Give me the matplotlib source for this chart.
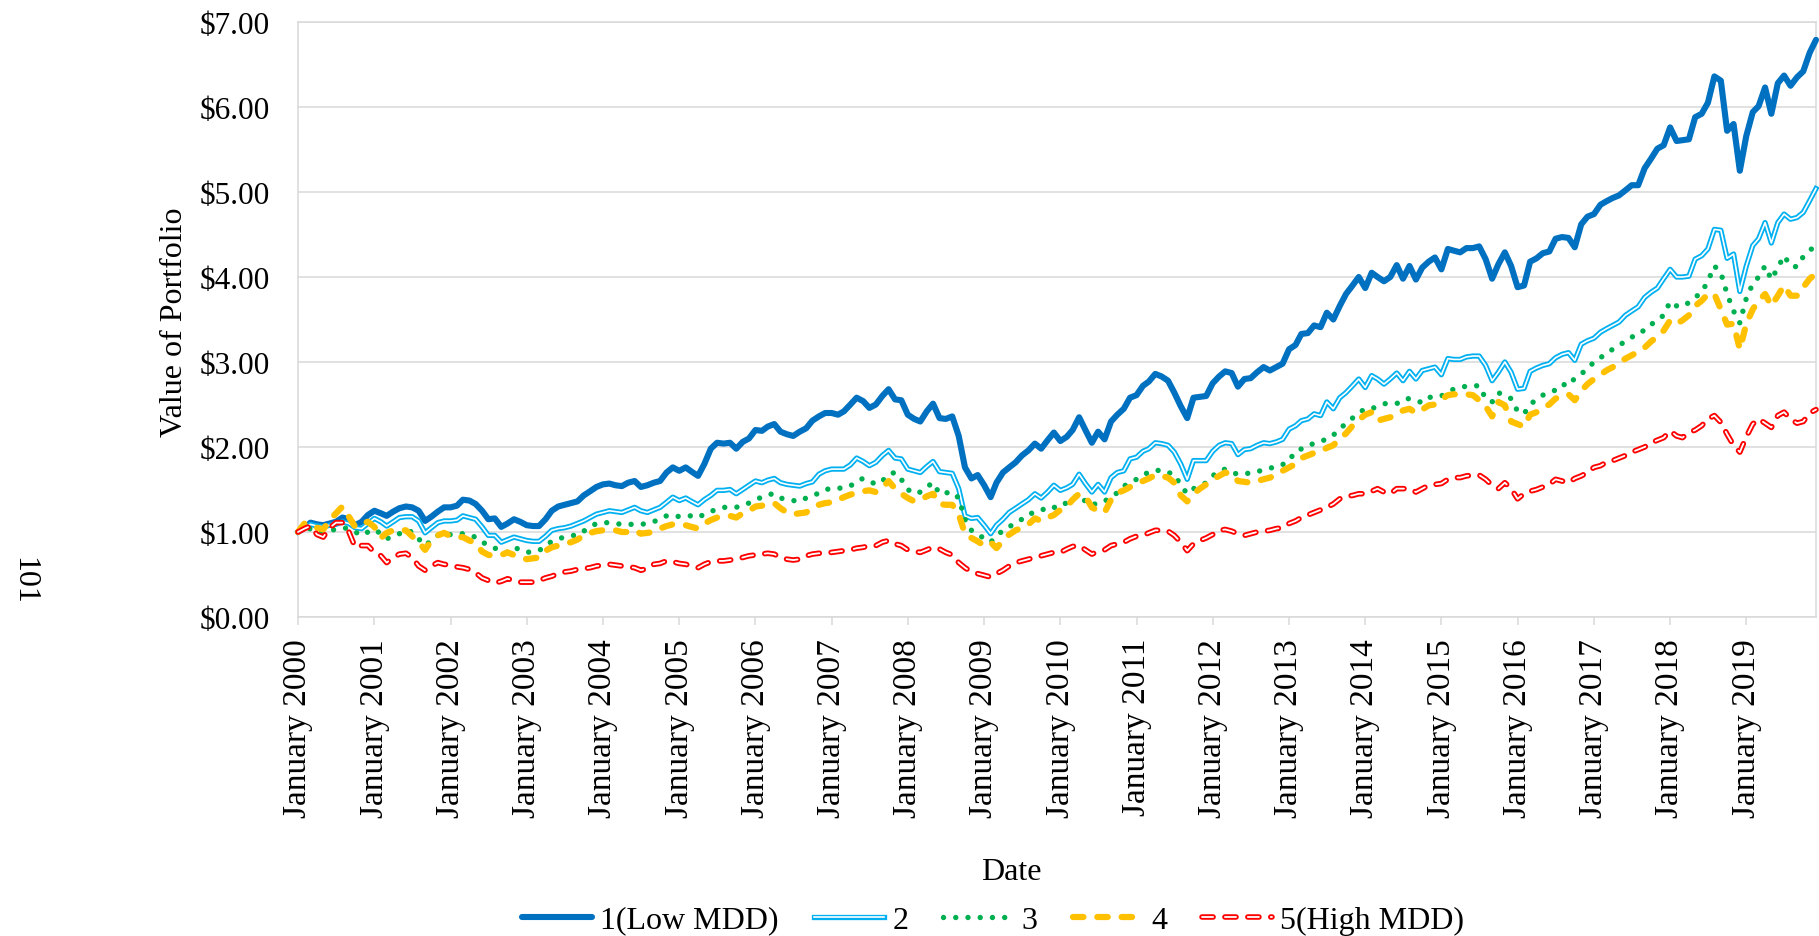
import matplotlib
matplotlib.use('Agg')
import matplotlib.pyplot as plt
from matplotlib.lines import Line2D
from matplotlib.ticker import MultipleLocator, FuncFormatter
import pandas as pd

# ---------------- data (monthly, Jan 2000 - Dec 2019) ----------------
start_month = '2000-01-01'
series_names = ['1(Low MDD)', '2', '3', '4', '5(High MDD)']

s1 = [1.00, 1.05, 1.11, 1.09, 1.08, 1.10, 1.12, 1.17, 1.15, 1.08, 1.12, 1.20,
      1.25, 1.22, 1.19, 1.24, 1.28, 1.30, 1.29, 1.25, 1.13, 1.18, 1.24, 1.29,
      1.29, 1.31, 1.38, 1.37, 1.33, 1.25, 1.15, 1.16, 1.06, 1.10, 1.15, 1.12,
      1.08, 1.07, 1.07, 1.15, 1.25, 1.30, 1.32, 1.34, 1.36, 1.43, 1.48, 1.53,
      1.56, 1.57, 1.55, 1.54, 1.58, 1.60, 1.53, 1.55, 1.58, 1.60, 1.70, 1.76,
      1.72, 1.76, 1.71, 1.66, 1.80, 1.98, 2.05, 2.04, 2.05, 1.98, 2.06, 2.10,
      2.20, 2.19, 2.24, 2.27, 2.18, 2.15, 2.13, 2.18, 2.22, 2.31, 2.36, 2.40,
      2.40, 2.38, 2.42, 2.50, 2.58, 2.54, 2.46, 2.50, 2.60, 2.68, 2.56, 2.55,
      2.38, 2.33, 2.30, 2.42, 2.51, 2.34, 2.33, 2.36, 2.13, 1.76, 1.63, 1.67,
      1.55, 1.41, 1.58, 1.70, 1.76, 1.82, 1.90, 1.96, 2.04, 1.98, 2.08, 2.17,
      2.07, 2.12, 2.20, 2.35, 2.20, 2.05, 2.18, 2.09, 2.30, 2.38, 2.45, 2.58,
      2.61, 2.72, 2.77, 2.86, 2.83, 2.78, 2.64, 2.48, 2.34, 2.58, 2.59, 2.60,
      2.75, 2.83, 2.89, 2.87, 2.71, 2.80, 2.81, 2.88, 2.94, 2.90, 2.94, 2.98,
      3.15, 3.20, 3.33, 3.34, 3.43, 3.41, 3.58, 3.50, 3.66, 3.80, 3.90, 4.00,
      3.87, 4.05, 4.00, 3.95, 4.00, 4.14, 3.98, 4.13, 3.97, 4.11, 4.18, 4.23,
      4.09, 4.33, 4.31, 4.29, 4.34, 4.34, 4.36, 4.21, 3.98, 4.15, 4.29, 4.13,
      3.88, 3.90, 4.18, 4.22, 4.28, 4.30, 4.45, 4.47, 4.46, 4.35, 4.62, 4.71,
      4.74, 4.85, 4.89, 4.93, 4.96, 5.02, 5.08, 5.08, 5.28, 5.39, 5.51, 5.55,
      5.76, 5.60, 5.61, 5.62, 5.88, 5.92, 6.05, 6.36, 6.31, 5.72, 5.80, 5.25,
      5.66, 5.94, 6.01, 6.23, 5.92, 6.28, 6.37, 6.25, 6.35, 6.42, 6.64, 6.79]

s2 = [1.00, 1.05, 1.09, 1.07, 1.06, 1.08, 1.09, 1.12, 1.10, 1.05, 1.04, 1.10,
      1.16, 1.12, 1.07, 1.12, 1.17, 1.18, 1.18, 1.13, 0.99, 1.05, 1.11, 1.13,
      1.13, 1.14, 1.19, 1.17, 1.15, 1.06, 0.96, 0.96, 0.88, 0.91, 0.94, 0.92,
      0.90, 0.89, 0.89, 0.95, 1.02, 1.04, 1.05, 1.07, 1.10, 1.13, 1.17, 1.21,
      1.23, 1.25, 1.24, 1.23, 1.26, 1.29, 1.25, 1.23, 1.26, 1.29, 1.35, 1.41,
      1.37, 1.40, 1.36, 1.32, 1.38, 1.43, 1.49, 1.49, 1.50, 1.45, 1.50, 1.55,
      1.60, 1.58, 1.61, 1.63, 1.58, 1.56, 1.55, 1.54, 1.57, 1.59, 1.68, 1.72,
      1.74, 1.74, 1.74, 1.79, 1.87, 1.83, 1.78, 1.82, 1.90, 1.96, 1.87, 1.86,
      1.74, 1.72, 1.70, 1.77, 1.83, 1.71, 1.70, 1.69, 1.51, 1.19, 1.16, 1.17,
      1.08, 0.98, 1.08, 1.15, 1.23, 1.28, 1.33, 1.38, 1.45, 1.40, 1.47, 1.55,
      1.49, 1.52, 1.56, 1.68, 1.57, 1.47, 1.56, 1.47, 1.64, 1.70, 1.72, 1.86,
      1.88, 1.95, 1.98, 2.05, 2.04, 2.02, 1.94, 1.80, 1.62, 1.84, 1.84, 1.84,
      1.95, 2.02, 2.05, 2.04, 1.91, 1.97, 1.98, 2.02, 2.05, 2.04, 2.06, 2.09,
      2.21, 2.25, 2.31, 2.33, 2.39, 2.37, 2.53, 2.45, 2.58, 2.64, 2.72, 2.80,
      2.70, 2.84, 2.80, 2.74, 2.80, 2.87, 2.78, 2.89, 2.80, 2.90, 2.92, 2.94,
      2.85, 3.04, 3.03, 3.03, 3.06, 3.07, 3.07, 2.96, 2.78, 2.88, 3.00, 2.88,
      2.68, 2.69, 2.89, 2.93, 2.96, 2.98, 3.05, 3.09, 3.11, 3.02, 3.21, 3.25,
      3.28, 3.35, 3.39, 3.43, 3.47, 3.55, 3.60, 3.65, 3.76, 3.82, 3.87, 3.98,
      4.09, 4.00, 4.00, 4.01, 4.21, 4.25, 4.33, 4.56, 4.55, 4.22, 4.27, 3.83,
      4.13, 4.37, 4.45, 4.64, 4.40, 4.64, 4.74, 4.68, 4.70, 4.76, 4.90, 5.04]

s3 = [1.00, 1.02, 1.04, 1.02, 1.00, 1.02, 1.03, 1.05, 1.04, 1.00, 0.96, 1.00,
      1.03, 0.98, 0.92, 0.95, 0.98, 1.02, 1.00, 0.92, 0.84, 0.90, 0.96, 0.96,
      0.97, 0.98, 0.98, 0.96, 0.94, 0.88, 0.85, 0.81, 0.78, 0.76, 0.82, 0.79,
      0.76, 0.77, 0.78, 0.84, 0.89, 0.92, 0.94, 0.96, 0.96, 1.01, 1.06, 1.10,
      1.11, 1.11, 1.10, 1.09, 1.09, 1.09, 1.09, 1.10, 1.12, 1.16, 1.19, 1.20,
      1.18, 1.19, 1.19, 1.17, 1.21, 1.24, 1.27, 1.29, 1.29, 1.29, 1.32, 1.34,
      1.38, 1.41, 1.44, 1.45, 1.40, 1.38, 1.37, 1.36, 1.40, 1.42, 1.46, 1.50,
      1.51, 1.51, 1.53, 1.54, 1.60, 1.63, 1.60, 1.56, 1.60, 1.68, 1.70, 1.62,
      1.50, 1.45, 1.47, 1.53, 1.58, 1.45, 1.46, 1.47, 1.40, 1.15, 1.02, 0.98,
      0.92, 0.88, 0.95, 1.02, 1.06, 1.11, 1.15, 1.21, 1.23, 1.25, 1.30, 1.29,
      1.29, 1.35, 1.40, 1.44, 1.36, 1.31, 1.35, 1.36, 1.42, 1.46, 1.54, 1.58,
      1.62, 1.66, 1.71, 1.72, 1.73, 1.70, 1.68, 1.55, 1.45, 1.51, 1.54, 1.58,
      1.66, 1.72, 1.74, 1.70, 1.68, 1.69, 1.69, 1.71, 1.73, 1.75, 1.77, 1.79,
      1.88, 1.90, 1.98, 2.02, 2.04, 2.07, 2.09, 2.14, 2.21, 2.28, 2.34, 2.40,
      2.45, 2.45, 2.48, 2.51, 2.51, 2.51, 2.56, 2.57, 2.55, 2.52, 2.58, 2.60,
      2.60, 2.65, 2.68, 2.69, 2.72, 2.72, 2.72, 2.57, 2.53, 2.64, 2.60, 2.57,
      2.42, 2.39, 2.50, 2.56, 2.61, 2.64, 2.67, 2.74, 2.72, 2.81, 2.86, 2.92,
      3.00, 3.05, 3.10, 3.15, 3.19, 3.25, 3.29, 3.35, 3.37, 3.44, 3.49, 3.55,
      3.71, 3.66, 3.65, 3.70, 3.76, 3.82, 3.95, 4.13, 4.05, 3.80, 3.60, 3.46,
      3.75, 3.92, 4.00, 4.13, 3.97, 4.11, 4.25, 4.13, 4.12, 4.24, 4.31, 4.38]

s4 = [1.00, 1.10, 1.06, 1.05, 1.03, 1.14, 1.22, 1.30, 1.18, 1.06, 1.10, 1.12,
      1.06, 0.93, 0.99, 1.02, 1.02, 1.02, 0.95, 0.88, 0.79, 0.90, 0.96, 0.99,
      0.95, 0.94, 0.94, 0.90, 0.87, 0.77, 0.73, 0.72, 0.73, 0.76, 0.73, 0.70,
      0.68, 0.69, 0.70, 0.78, 0.82, 0.84, 0.86, 0.88, 0.91, 0.96, 0.99, 1.01,
      1.02, 1.02, 1.02, 1.00, 1.00, 1.02, 0.98, 0.99, 1.00, 1.04, 1.07, 1.09,
      1.09, 1.08, 1.06, 1.04, 1.10, 1.14, 1.17, 1.18, 1.19, 1.17, 1.22, 1.25,
      1.30, 1.31, 1.33, 1.34, 1.28, 1.23, 1.21, 1.22, 1.23, 1.28, 1.32, 1.34,
      1.35, 1.38, 1.41, 1.44, 1.46, 1.48, 1.49, 1.47, 1.52, 1.60, 1.51, 1.45,
      1.40, 1.36, 1.38, 1.42, 1.45, 1.33, 1.32, 1.32, 1.21, 0.98, 0.93, 0.89,
      0.84, 0.88, 0.81, 0.90, 0.97, 1.02, 1.05, 1.09, 1.16, 1.13, 1.17, 1.20,
      1.26, 1.30, 1.38, 1.45, 1.42, 1.29, 1.25, 1.23, 1.38, 1.46, 1.49, 1.53,
      1.57, 1.60, 1.63, 1.67, 1.66, 1.64, 1.58, 1.43, 1.36, 1.45, 1.51, 1.56,
      1.62, 1.66, 1.70, 1.68, 1.60, 1.59, 1.58, 1.60, 1.62, 1.64, 1.67, 1.72,
      1.76, 1.80, 1.87, 1.90, 1.93, 1.95, 1.99, 2.02, 2.10, 2.16, 2.25, 2.32,
      2.38, 2.41, 2.31, 2.33, 2.35, 2.38, 2.43, 2.45, 2.40, 2.44, 2.49, 2.50,
      2.56, 2.61, 2.62, 2.62, 2.62, 2.61, 2.55, 2.48, 2.36, 2.53, 2.49, 2.30,
      2.27, 2.24, 2.38, 2.41, 2.46, 2.50, 2.57, 2.60, 2.62, 2.55, 2.66, 2.74,
      2.80, 2.85, 2.90, 2.94, 2.99, 3.04, 3.08, 3.12, 3.17, 3.24, 3.30, 3.37,
      3.49, 3.45, 3.49, 3.55, 3.66, 3.72, 3.80, 3.80, 3.62, 3.44, 3.45, 3.15,
      3.45, 3.62, 3.72, 3.80, 3.66, 3.78, 3.90, 3.78, 3.78, 3.88, 3.98, 4.04]

s5 = [1.00, 1.04, 1.07, 0.97, 0.94, 1.05, 1.11, 1.11, 1.00, 0.82, 0.84, 0.84,
      0.76, 0.72, 0.64, 0.70, 0.74, 0.75, 0.70, 0.60, 0.55, 0.60, 0.64, 0.62,
      0.61, 0.59, 0.58, 0.56, 0.52, 0.46, 0.43, 0.40, 0.42, 0.45, 0.43, 0.41,
      0.41, 0.41, 0.43, 0.46, 0.48, 0.51, 0.53, 0.54, 0.56, 0.57, 0.58, 0.60,
      0.61, 0.62, 0.61, 0.60, 0.59, 0.58, 0.55, 0.57, 0.62, 0.63, 0.66, 0.65,
      0.63, 0.62, 0.60, 0.58, 0.62, 0.65, 0.66, 0.66, 0.67, 0.68, 0.70, 0.72,
      0.73, 0.74, 0.75, 0.74, 0.70, 0.68, 0.67, 0.68, 0.72, 0.74, 0.75, 0.75,
      0.76, 0.77, 0.78, 0.79, 0.81, 0.82, 0.84, 0.84, 0.88, 0.90, 0.86, 0.84,
      0.79, 0.77, 0.76, 0.79, 0.82, 0.80, 0.76, 0.73, 0.64, 0.58, 0.53, 0.51,
      0.49, 0.47, 0.51, 0.55, 0.60, 0.64, 0.66, 0.68, 0.70, 0.72, 0.74, 0.76,
      0.76, 0.80, 0.83, 0.84, 0.79, 0.74, 0.77, 0.79, 0.84, 0.86, 0.88, 0.92,
      0.95, 0.96, 0.99, 1.02, 1.02, 1.01, 0.96, 0.88, 0.78, 0.86, 0.90, 0.93,
      0.97, 1.02, 1.03, 1.01, 0.98, 0.96, 0.98, 1.00, 1.01, 1.02, 1.04, 1.05,
      1.10, 1.13, 1.17, 1.20, 1.23, 1.26, 1.29, 1.33, 1.39, 1.42, 1.43, 1.45,
      1.45, 1.48, 1.51, 1.47, 1.45, 1.51, 1.51, 1.51, 1.47, 1.51, 1.55, 1.56,
      1.57, 1.62, 1.64, 1.64, 1.66, 1.67, 1.67, 1.62, 1.55, 1.51, 1.58, 1.51,
      1.39, 1.45, 1.48, 1.50, 1.53, 1.56, 1.62, 1.60, 1.58, 1.63, 1.66, 1.70,
      1.76, 1.78, 1.82, 1.84, 1.87, 1.90, 1.94, 1.97, 2.00, 2.05, 2.08, 2.11,
      2.19, 2.13, 2.11, 2.17, 2.20, 2.25, 2.33, 2.37, 2.29, 2.15, 2.02, 1.94,
      2.12, 2.27, 2.33, 2.28, 2.23, 2.37, 2.41, 2.33, 2.28, 2.30, 2.40, 2.44]

tick_years = list(range(2000, 2020))

# ---------------- styling ----------------
plt.rcParams['font.family'] = ['Liberation Serif', 'DejaVu Serif']
plt.rcParams['lines.scale_dashes'] = False

W, H = 1819, 937
fig = plt.figure(figsize=(W / 100, H / 100), dpi=100)
fig.patch.set_facecolor('white')
ax = fig.add_axes([298 / W, 1 - 618 / H, (1816 - 298) / W, (618 - 23) / H])

dates = pd.date_range(start_month, periods=len(s1), freq='MS')

c1, c2, c3, c4, c5 = '#0070C0', '#00B0F0', '#00B050', '#FFC000', '#FF0000'
dash4 = (0, (7.5, 10.0))
dash5 = (0, (8.0, 8.5))
dot3 = (0, (0.01, 8.8))

ax.plot(dates, s1, color=c1, lw=4.4, solid_joinstyle='round',
        solid_capstyle='round', zorder=3, clip_on=False)
ax.plot(dates, s2, color=c2, lw=3.8, solid_joinstyle='round', zorder=4, clip_on=False)
ax.plot(dates, s2, color='white', lw=1.2, solid_joinstyle='round', zorder=4.1, clip_on=False)
ax.plot(dates, s3, color=c3, lw=3.9, linestyle=dot3, dash_capstyle='round',
        zorder=5, clip_on=False)
ax.plot(dates, s4, color=c4, lw=4.5, linestyle=dash4, dash_capstyle='round',
        dash_joinstyle='round', zorder=6, clip_on=False)
ax.plot(dates, s5, color=c5, lw=4.0, linestyle=dash5, dash_capstyle='round',
        dash_joinstyle='round', zorder=7, clip_on=False)
ax.plot(dates, s5, color='white', lw=1.3, linestyle=dash5, dash_capstyle='round',
        dash_joinstyle='round', zorder=7.1, clip_on=False)

# axes
ax.set_ylim(0, 7)
ax.set_xlim(dates[0], dates[-1])
ax.yaxis.set_major_locator(MultipleLocator(1))
ax.yaxis.set_major_formatter(FuncFormatter(lambda v, p: f'${v:.2f}'))
ax.grid(axis='y', color='#D9D9D9', lw=1.1, zorder=0)
ax.set_axisbelow(True)

ticks = pd.to_datetime([f'{y}-01-01' for y in tick_years])
ax.set_xticks(ticks)
ax.set_xticklabels([t.strftime('%B %Y') for t in ticks], rotation=90,
                   fontsize=24, ha='center', va='top')
ax.tick_params(axis='x', length=6, width=1.1, color='#D9D9D9', pad=9,
               labelcolor='black')
ax.tick_params(axis='y', length=0, pad=20, labelsize=22.5, labelcolor='black')

for side in ['left', 'bottom', 'right', 'top']:
    ax.spines[side].set_color('#D9D9D9')
    ax.spines[side].set_linewidth(1.1)

# titles / extra text
fig.text(174 / W, 1 - 322 / H, 'Value of Portfolio', rotation=90,
         ha='center', va='center', fontsize=23)
fig.text(1011 / W, 1 - 873 / H, 'Date', ha='center', va='center', fontsize=23)
fig.text(24 / W, 1 - 581 / H, '101', rotation=270, ha='center', va='center',
         fontsize=23)

# legend
h1 = Line2D([], [], color=c1, lw=4.4, solid_capstyle='round')
h2 = (Line2D([], [], color=c2, lw=3.8), Line2D([], [], color='white', lw=1.2))
h3 = Line2D([], [], color=c3, lw=3.9, linestyle=dot3, dash_capstyle='round')
h4 = Line2D([], [], color=c4, lw=4.5, linestyle=dash4, dash_capstyle='round')
h5 = (Line2D([], [], color=c5, lw=4.0, linestyle=dash5, dash_capstyle='round'),
      Line2D([], [], color='white', lw=1.3, linestyle=dash5, dash_capstyle='round'))
fig.legend([h1, h2, h3, h4, h5], series_names, loc='center left',
           bbox_to_anchor=(522 / W, 1 - 921 / H), ncol=5, frameon=False,
           fontsize=23, handlelength=2.2, handletextpad=0.25,
           columnspacing=1.1, borderpad=0, borderaxespad=0)

fig.savefig('out.png', dpi=100, facecolor='white')
